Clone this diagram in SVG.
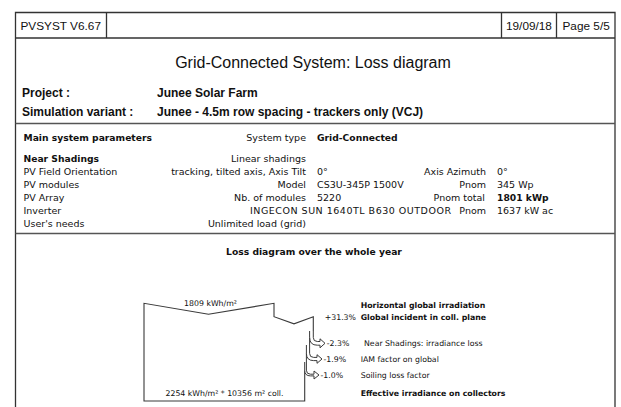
<svg xmlns="http://www.w3.org/2000/svg" width="621" height="407" viewBox="0 0 621 407">
<style>
.fr{fill:none;stroke:#333;stroke-width:1.3}
.sep{fill:none;stroke:#555;stroke-width:1.6}
.h{font-family:"Liberation Sans",Arial,sans-serif;fill:#111}
.hb{font-family:"Liberation Sans",Arial,sans-serif;font-weight:bold;font-size:12px;fill:#111}
.p{font-family:"DejaVu Sans",Verdana,sans-serif;font-size:9.5px;fill:#111}
.pb{font-family:"DejaVu Sans",Verdana,sans-serif;font-size:9.2px;font-weight:bold;fill:#111}
.d{font-family:"DejaVu Sans",Verdana,sans-serif;font-size:7.8px;fill:#111}
.db{font-family:"DejaVu Sans",Verdana,sans-serif;font-size:7.8px;font-weight:bold;fill:#111}
.r{text-anchor:end}
.m{text-anchor:middle}
.ln{fill:none;stroke:#3a3a3a;stroke-width:1.1;stroke-linejoin:miter}
.ar{fill:#fff;stroke:#3a3a3a;stroke-width:1}
</style>
<rect width="621" height="407" fill="#fff"/>
<g id="frame">
<path class="fr" d="M15.5,410 V12.5 H615 V410"/>
<path class="fr" d="M15.5,38 H615 M106.5,12.5 V38 M501.5,12.5 V38 M556.5,12.5 V38"/>
<path class="sep" d="M15.5,123.5 H615 M15.5,233.5 H615"/>
</g>
<g id="header">
<text class="h" x="20.5" y="30" font-size="11.8">PVSYST V6.67</text>
<text class="h" x="506" y="30" font-size="11.8">19/09/18</text>
<text class="h" x="562.5" y="30" font-size="11.8">Page 5/5</text>
</g>
<g id="title">
<text class="h m" x="313" y="68" font-size="16">Grid-Connected System: Loss diagram</text>
<text class="hb" x="22" y="97">Project :</text>
<text class="hb" x="157" y="97">Junee Solar Farm</text>
<text class="hb" x="22" y="116">Simulation variant :</text>
<text class="hb" x="157" y="116">Junee - 4.5m row spacing - trackers only (VCJ)</text>
</g>
<g id="parameters">
<text class="pb" x="23.5" y="141">Main system parameters</text>
<text class="p r" x="306" y="141">System type</text>
<text class="pb" x="317" y="141">Grid-Connected</text>
<text class="pb" x="23.5" y="161.5">Near Shadings</text>
<text class="p r" x="306" y="161.5">Linear shadings</text>
<text class="p" x="23.5" y="174.5">PV Field Orientation</text>
<text class="p r" x="306" y="174.5">tracking, tilted axis, Axis Tilt</text>
<text class="p" x="317" y="174.5">0°</text>
<text class="p r" x="486" y="174.5">Axis Azimuth</text>
<text class="p" x="497" y="174.5">0°</text>
<text class="p" x="23.5" y="187.5">PV modules</text>
<text class="p r" x="306" y="187.5">Model</text>
<text class="p" x="317" y="187.5">CS3U-345P 1500V</text>
<text class="p r" x="486" y="187.5">Pnom</text>
<text class="p" x="497" y="187.5">345 Wp</text>
<text class="p" x="23.5" y="200.5">PV Array</text>
<text class="p r" x="306" y="200.5">Nb. of modules</text>
<text class="p" x="317" y="200.5">5220</text>
<text class="p r" x="485" y="200.5">Pnom total</text>
<text class="pb" x="497" y="200.5">1801 kWp</text>
<text class="p" x="23.5" y="213.5">Inverter</text>
<text class="p" x="250" y="213.5" textLength="201" lengthAdjust="spacing">INGECON SUN 1640TL B630 OUTDOOR</text>
<text class="p r" x="486" y="213.5">Pnom</text>
<text class="p" x="497" y="213.5">1637 kW ac</text>
<text class="p" x="23.5" y="226.5">User's needs</text>
<text class="p r" x="306" y="226.5">Unlimited load (grid)</text>
</g>
<g id="loss-title">
<text class="pb m" x="314" y="255">Loss diagram over the whole year</text>
</g>
<g id="flow">
<path class="ln" d="M304.7,370.2 V401 H144 V303.3 L208.5,314.3 L274,303.3 V316.7 L294,323.8 L313.3,316.7 V331"/>
<text class="d m" x="210.5" y="306">1809 kWh/m²</text>
<text class="d m" x="224.5" y="396">2254 kWh/m² * 10356 m² coll.</text>
</g>
<g id="connectors">
<path class="ar" d="M313.3,331 V337.5 Q313.3,341.5 317.3,341.5 H320 V338.8 L325,343.3 L320,347.8 V345.2 H317.3 Q309.6,345.2 309.6,337.5 V331"/>
<path class="ar" d="M309.6,337.5 V353.4 Q309.6,357.4 313.6,357.4 H317 V354.7 L322,359 L317,363.3 V360.6 H313.6 Q306.4,360.6 306.4,353.4 V345"/>
<path class="ar" d="M306.4,353.4 V370.2 Q306.4,374.2 310.4,374.2 H314 V371 L319,375 L314,379 V375.9 H310.4 Q304.7,375.9 304.7,370.2 V362"/>
</g>
<g id="labels">
<text class="db" x="360.7" y="307.8">Horizontal global irradiation</text>
<text class="d r" x="356" y="319.5">+31.3%</text>
<text class="db" x="360.7" y="319.5">Global incident in coll. plane</text>
<text class="d" x="326.7" y="346">-2.3%</text>
<text class="d" x="364" y="346">Near Shadings: irradiance loss</text>
<text class="d" x="323.5" y="361.8">-1.9%</text>
<text class="d" x="360.7" y="361.8">IAM factor on global</text>
<text class="d" x="320.5" y="377.8">-1.0%</text>
<text class="d" x="360.7" y="377.8">Soiling loss factor</text>
<text class="db" x="360.7" y="396">Effective irradiance on collectors</text>
</g>
</svg>
